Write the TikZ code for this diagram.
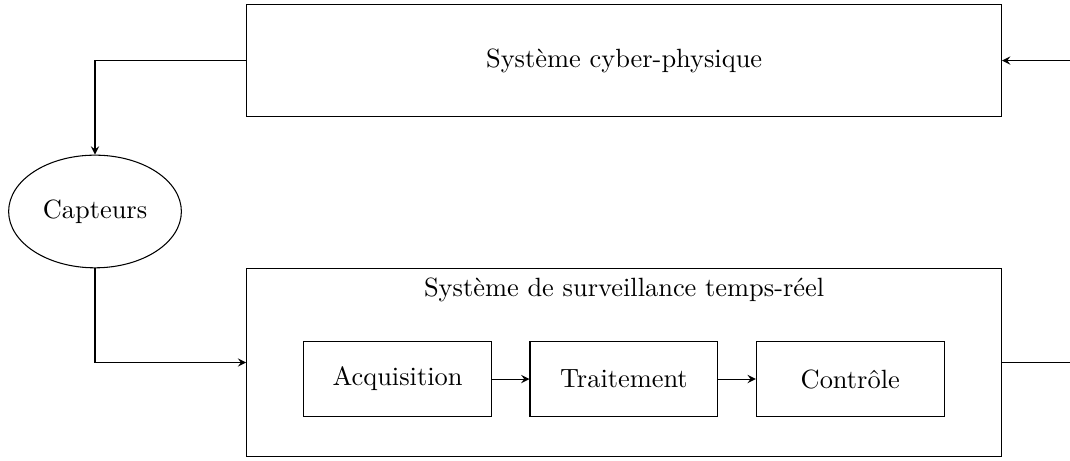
\documentclass[tikz,border=0pt]{standalone}
\usepackage{fontspec}
\usetikzlibrary{positioning,shapes.geometric,arrows}

\begin{document}
\begin{tikzpicture}[>=stealth,
  bloc/.style={draw,rectangle,minimum width=2.5cm,minimum height=1cm},
  grand/.style={draw,rectangle,minimum width=10.05cm}
]
\useasboundingbox (0,0) rectangle (14.247,-6.125);
\node[grand,minimum height=1.5cm](cps)at(8.31,-0.806){Système cyber-physique};
\node[draw,ellipse,minimum width=2.3cm,minimum height=1.5cm](capt)at(1.265,-2.816){Capteurs};
\node[grand,minimum height=2.5cm](surv)at(8.31,-4.827){};
\node[anchor=north](survtitre)at(surv.north){Système de surveillance temps-réel};
\node[bloc](acq)at(5.293,-5.047){Acquisition};
\node[bloc,right=0.5cm of acq](trait){Traitement};
\node[bloc,right=0.5cm of trait](ctrl){Contrôle};
\coordinate (retour) at (14.8,-2.8);
% liaisons
\draw[->] (cps.west) -| (capt.north);
\draw[->] (capt.south) |- (surv.west);
\draw[->] (acq) -- (trait);
\draw[->] (trait) -- (ctrl);
\draw[->] (surv.east) -| (retour) |- (cps.east);
\end{tikzpicture}
\end{document}
